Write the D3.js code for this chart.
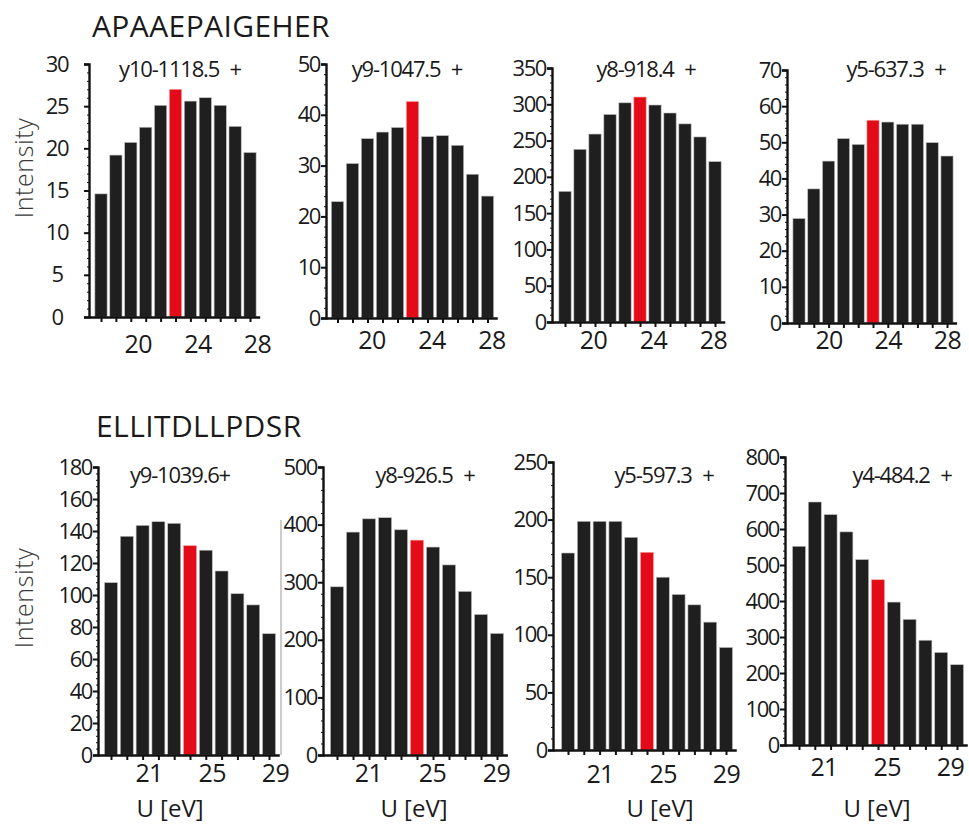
<!DOCTYPE html>
<html>
<head>
<meta charset="utf-8">
<script src="https://cdn.jsdelivr.net/npm/d3@7"></script>
<style>
  body { margin: 0; background: #fff; }
  text { font-family: "Open Sans", "Noto Sans", sans-serif; fill: #1a1a1a; }
</style>
</head>
<body>
<script>
// collision energies (bar centres) and tick labels
const topEnergies = [18, 19, 20, 21, 22, 23, 24, 25, 26, 27, 28];
const bottomEnergies = [19, 20, 21, 22, 23, 24, 25, 26, 27, 28, 29];
const topTicks = [20, 24, 28];
const bottomTicks = [21, 25, 29];
const topHighlight = 23;
const bottomHighlight = 24;

// peptide titles
const peptides = ["APAAEPAIGEHER", "ELLITDLLPDSR"];

// fragment labels
const topLabels = ["y10-1118.5 +", "y9-1047.5 +", "y8-918.4 +", "y5-637.3 +"];
const bottomLabels = ["y9-1039.6+", "y8-926.5 +", "y5-597.3 +", "y4-484.2 +"];

// intensities, APAAEPAIGEHER
const y10_1118 = [14.6, 19.2, 20.7, 22.5, 25.1, 27.0, 25.6, 26.0, 25.1, 22.6, 19.5];
const y9_1047 = [22.9, 30.4, 35.3, 36.6, 37.5, 42.6, 35.7, 35.9, 34.0, 28.3, 24.0];
const y8_918 = [180, 238, 259, 286, 302, 310, 299, 288, 273, 255, 221];
const y5_637 = [28.9, 37.1, 44.8, 51.0, 49.4, 56.1, 55.6, 55.0, 55.0, 49.9, 46.2];

// intensities, ELLITDLLPDSR
const y9_1039 = [107.7, 136.7, 143.5, 145.8, 144.8, 130.8, 128, 115, 100.8, 93.8, 75.8];
const y8_926 = [292, 387, 410, 412, 391, 373, 361, 330, 284, 244, 211];
const y5_597 = [171, 198.5, 198.5, 198.5, 184.6, 171.6, 150, 135, 126, 111, 89];
const y4_484 = [552, 675, 640, 592, 515, 459, 397, 349, 291, 257, 223];

// y axis: max and step
const topYMax = [30, 50, 350, 70];
const topYStep = [5, 10, 50, 10];
const bottomYMax = [180, 500, 250, 800];
const bottomYStep = [20, 100, 50, 100];

const svg = d3.select("body").append("svg")
    .attr("width", 969)
    .attr("height", 831);

// row titles
svg.append("text").attr("x", 92).attr("y", 37)
   .attr("font-size", 30).attr("letter-spacing", 0.4)
   .text(peptides[0]);
svg.append("text").attr("x", 96).attr("y", 437)
   .attr("font-size", 30).attr("letter-spacing", 0.4)
   .text(peptides[1]);

// y titles
[168, 598].forEach(cy => {
  svg.append("text")
     .attr("transform", `translate(33,${cy}) rotate(-90)`)
     .attr("text-anchor", "middle").attr("font-size", 25)
     .attr("font-weight", 300).attr("letter-spacing", 0.6)
     .style("fill", "#3a3a3a")
     .text("Intensity");
});

// odd grey line between panels in the lower row
svg.append("line").attr("x1", 281).attr("x2", 281).attr("y1", 520).attr("y2", 755)
   .attr("stroke", "#999").attr("stroke-width", 1);

// layout: ax = y-axis x, gap = first bar centre from axis, stride = px per eV,
// shift = tick label nudge, lb = tick label baseline
const panels = [
  { vals: y10_1118, label: topLabels[0], e: topEnergies, ticks: topTicks, hi: topHighlight,
    ymax: topYMax[0], step: topYStep[0], ax: 89, base: 317, top: 64, gap: 12, stride: 14.9, shift: 7, lb: 353,
    lx: 180, ly: 77, centerLabels: true },
  { vals: y9_1047, label: topLabels[1], e: topEnergies, ticks: topTicks, hi: topHighlight,
    ymax: topYMax[1], step: topYStep[1], ax: 326, base: 318, top: 64, gap: 11.5, stride: 15, shift: 4, lb: 349,
    lx: 407, ly: 77 },
  { vals: y8_918, label: topLabels[2], e: topEnergies, ticks: topTicks, hi: topHighlight,
    ymax: topYMax[2], step: topYStep[2], ax: 552, base: 322, top: 68, gap: 13, stride: 15, shift: -2, lb: 349,
    lx: 646, ly: 77 },
  { vals: y5_637, label: topLabels[3], e: topEnergies, ticks: topTicks, hi: topHighlight,
    ymax: topYMax[3], step: topYStep[3], ax: 787, base: 323, top: 70, gap: 12, stride: 14.8, shift: 0, lb: 349,
    lx: 896, ly: 77 },
  { vals: y9_1039, label: bottomLabels[0], e: bottomEnergies, ticks: bottomTicks, hi: bottomHighlight,
    ymax: bottomYMax[0], step: bottomYStep[0], ax: 98, base: 755, top: 467, gap: 13, stride: 15.8, shift: 6, lb: 782,
    lx: 180, ly: 483, xlab: 170 },
  { vals: y8_926, label: bottomLabels[1], e: bottomEnergies, ticks: bottomTicks, hi: bottomHighlight,
    ymax: bottomYMax[1], step: bottomYStep[1], ax: 323, base: 755, top: 467, gap: 14, stride: 16, shift: -1, lb: 782,
    lx: 425, ly: 483, xlab: 414 },
  { vals: y5_597, label: bottomLabels[2], e: bottomEnergies, ticks: bottomTicks, hi: bottomHighlight,
    ymax: bottomYMax[2], step: bottomYStep[2], ax: 553, base: 750, top: 462, gap: 15, stride: 15.8, shift: 0, lb: 783,
    lx: 664, ly: 483, xlab: 660 },
  { vals: y4_484, label: bottomLabels[3], e: bottomEnergies, ticks: bottomTicks, hi: bottomHighlight,
    ymax: bottomYMax[3], step: bottomYStep[3], ax: 785, base: 745, top: 457, gap: 14, stride: 15.8, shift: -7, lb: 776,
    lx: 902, ly: 483, xlab: 877 }
];

panels.forEach(p => {
  const e0 = p.e[0] - p.gap / p.stride;
  const e1 = p.e[p.e.length - 1] + 0.65;

  const x = d3.scaleLinear().domain([e0, e1]).range([0, (e1 - e0) * p.stride]);
  const y = d3.scaleLinear().domain([0, p.ymax]).range([p.base - p.top, 0]);
  const h = p.base - p.top;

  const g = svg.append("g").attr("transform", `translate(${p.ax},${p.top})`);

  // bars
  g.selectAll("rect")
   .data(p.vals)
   .enter()
   .append("rect")
   .attr("x", (d, i) => x(p.e[i] - 0.41))
   .attr("width", (d, i) => x(p.e[i] + 0.41) - x(p.e[i] - 0.41))
   .attr("y", d => y(d))
   .attr("height", d => y(0) - y(d))
   .attr("fill", (d, i) => p.e[i] === p.hi ? "#e30b17" : "#1f1f1f")
   .attr("stroke", (d, i) => p.e[i] === p.hi ? "#f3a0a0" : "#bdbdbd")
   .attr("stroke-width", 0.6);

  // y axis
  const yTicks = d3.range(0, p.ymax + 0.001, p.step);
  const axY = g.append("g")
     .call(d3.axisLeft(y).tickValues(yTicks).tickSize(5).tickPadding(p.centerLabels ? 20 : 1));
  axY.select(".domain").attr("stroke-width", 2.4).attr("stroke", "#111");
  axY.selectAll(".tick line").attr("stroke-width", 2).attr("stroke", "#111");
  axY.selectAll("text")
     .attr("font-size", 22).attr("letter-spacing", -1.4)
     .style("font-family", "'Open Sans', sans-serif").style("fill", "#1a1a1a");
  if (p.centerLabels) axY.selectAll("text").attr("text-anchor", "middle").attr("x", -32);
  // minor marks along the axis
  g.append("g")
   .call(d3.axisLeft(y).tickValues(d3.range(0, p.ymax, p.step / 5)).tickSize(2).tickFormat(""))
   .call(a => a.select(".domain").remove())
   .selectAll("line").attr("stroke", "#111").attr("stroke-width", 1);

  // x axis with a mark under every bar
  const axX = g.append("g")
     .attr("transform", `translate(0,${h})`)
     .call(d3.axisBottom(x).tickValues(p.e).tickSize(5).tickFormat("").tickSizeOuter(0));
  axX.select(".domain").attr("stroke-width", 2.4).attr("stroke", "#111");
  axX.selectAll(".tick line").attr("stroke-width", 2).attr("stroke", "#111");

  const lab = g.append("g")
     .attr("transform", `translate(${p.shift},${h})`)
     .call(d3.axisBottom(x).tickValues(p.ticks).tickSize(0));
  lab.select(".domain").remove();
  lab.selectAll("text")
     .attr("dy", 0).attr("y", p.lb - p.base)
     .attr("font-size", 25).attr("letter-spacing", -0.6)
     .style("font-family", "'Open Sans', sans-serif").style("fill", "#1a1a1a");

  // fragment label
  svg.append("text")
     .attr("x", p.lx).attr("y", p.ly)
     .attr("text-anchor", "middle")
     .attr("font-size", 22).attr("letter-spacing", -1.2)
     .attr("word-spacing", 6)
     .text(p.label);

  // x title on the lower row
  if (p.xlab) {
    svg.append("text")
       .attr("x", p.xlab).attr("y", 817)
       .attr("text-anchor", "middle")
       .attr("font-size", 24)
       .text("U [eV]");
  }
});
</script>
</body>
</html>
